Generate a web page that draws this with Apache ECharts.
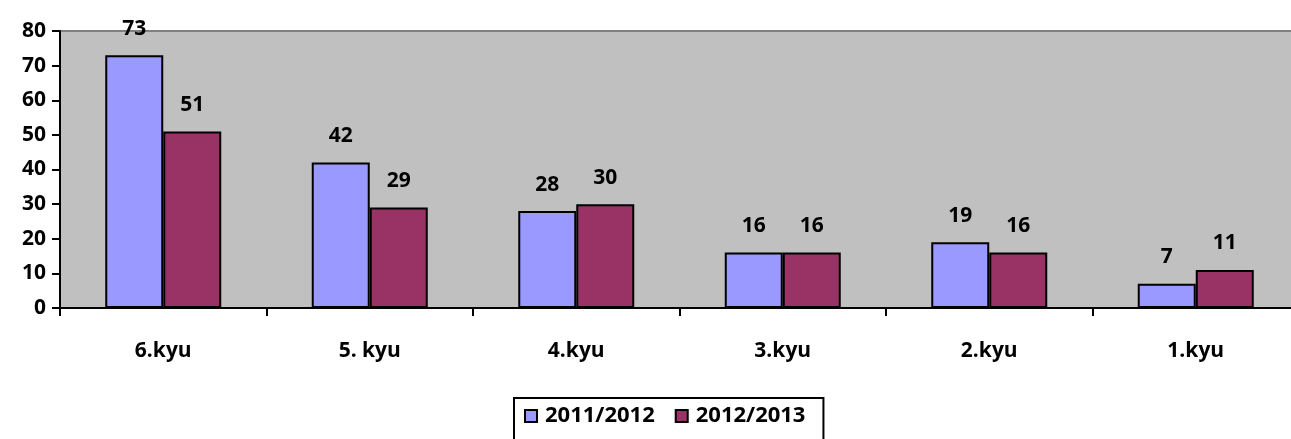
<!DOCTYPE html>
<html><head><meta charset="utf-8">
<script src="https://cdn.jsdelivr.net/npm/echarts@6/dist/echarts.min.js"></script>
<style>html,body{margin:0;padding:0;background:#fff}#c{width:1291px;height:439px}</style>
</head><body><div id="c"></div>
<script>
const categories = ["6.kyu", "5. kyu", "4.kyu", "3.kyu", "2.kyu", "1.kyu"];
const series2011 = [73, 42, 28, 16, 19, 7];
const series2012 = [51, 29, 30, 16, 16, 11];
const seriesNames = ["2011/2012", "2012/2013"];
const yTicks = { min: 0, max: 80, interval: 10 };

const font = "Open Sans";
const fs = 21;
const chart = echarts.init(document.getElementById('c'), null, { renderer: 'canvas' });
const labelStyle = { show: true, position: 'top', distance: 16, color: '#000', fontWeight: 'bold', fontSize: fs, fontFamily: font };
chart.setOption({
  animation: false,
  textStyle: { fontFamily: font },
  grid: { left: 60, right: -8, top: 31, bottom: 131, outerBoundsMode: 'none', containLabel: false, show: true, backgroundColor: '#C0C0C0', borderColor: '#808080', borderWidth: 2 },
  legend: {
    data: seriesNames, top: 398, left: 514,
    borderColor: '#000', borderWidth: 2, backgroundColor: '#fff',
    padding: [7, 18, 20, 10], itemWidth: 12, itemHeight: 12, itemGap: 20,
    textStyle: { fontSize: 22, fontWeight: 'bold', color: '#000', fontFamily: font, padding: [0, 0, 0, 3] },
    icon: 'rect'
  },
  xAxis: {
    type: 'category', data: categories,
    axisLine: { lineStyle: { color: '#000', width: 2 } },
    axisTick: { show: true, length: 8, lineStyle: { color: '#000', width: 2 } },
    axisLabel: { color: '#000', fontSize: fs, fontWeight: 'bold', fontFamily: font, margin: 33 },
    splitLine: { show: false }
  },
  yAxis: {
    type: 'value', min: yTicks.min, max: yTicks.max, interval: yTicks.interval,
    axisLine: { show: true, lineStyle: { color: '#000', width: 2 } },
    axisTick: { show: true, length: 8, lineStyle: { color: '#000', width: 2 } },
    axisLabel: { color: '#000', fontSize: fs, fontWeight: 'bold', fontFamily: font, margin: 14 },
    splitLine: { show: false }
  },
  series: [
    { name: seriesNames[0], type: 'bar', data: series2011, barWidth: 58, barGap: '0%',
      itemStyle: { color: '#9999FF', borderColor: '#000', borderWidth: 2 }, label: labelStyle },
    { name: seriesNames[1], type: 'bar', data: series2012, barWidth: 58,
      itemStyle: { color: '#993366', borderColor: '#000', borderWidth: 2 }, label: labelStyle }
  ]
});
</script></body></html>
